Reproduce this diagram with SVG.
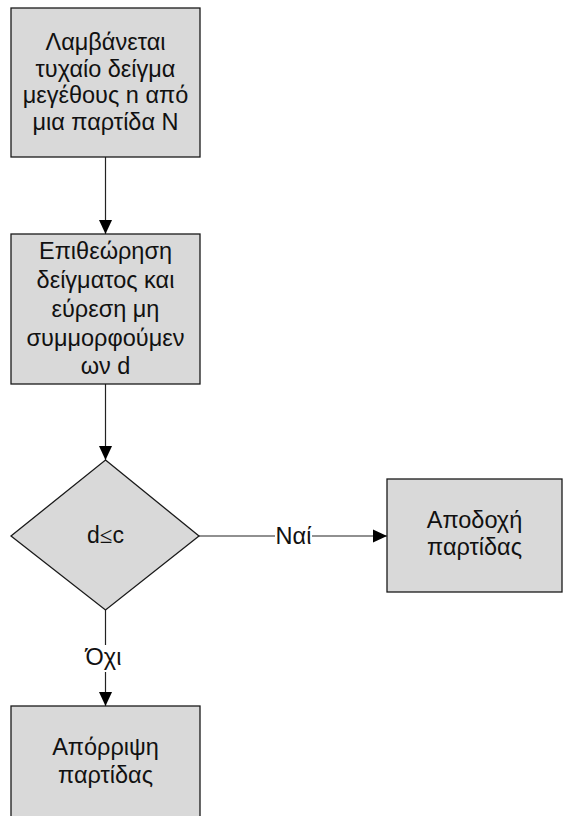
<svg xmlns="http://www.w3.org/2000/svg" width="564" height="816" viewBox="0 0 564 816">
  <style>
    .box { fill: #d9d9d9; stroke: #1a1a1a; stroke-width: 1.3; }
    .t { font-family: "Liberation Sans", Arial, sans-serif; font-size: 23.5px; fill: #111; text-anchor: middle; }
    .conn { stroke: #222; stroke-width: 1.2; fill: none; }
  </style>
  <defs>
    <marker id="arrow" markerWidth="14" markerHeight="14" viewBox="0 0 15 14" refX="15" refY="7" orient="auto" markerUnits="userSpaceOnUse">
      <path d="M0,0 L15,7 L0,14 Z" fill="#000"/>
    </marker>
  </defs>

  <rect width="564" height="816" fill="#fff"/>

  <g id="connectors">
    <line class="conn" x1="105.5" y1="157" x2="105.5" y2="234" marker-end="url(#arrow)"/>
    <line class="conn" x1="105.5" y1="384" x2="105.5" y2="460" marker-end="url(#arrow)"/>
    <line class="conn" x1="199" y1="536" x2="275" y2="536"/>
    <line class="conn" x1="312" y1="536" x2="387" y2="536" marker-end="url(#arrow)"/>
    <text class="t" x="293.5" y="544">Ναί</text>
    <line class="conn" x1="105.5" y1="610" x2="105.5" y2="645"/>
    <line class="conn" x1="105.5" y1="672" x2="105.5" y2="706" marker-end="url(#arrow)"/>
    <text class="t" x="103.5" y="665">Όχι</text>
  </g>

  <g id="sample">
    <rect class="box" x="11" y="8" width="189" height="149"/>
    <text class="t" x="105.5" y="50">Λαμβάνεται</text>
    <text class="t" x="105.5" y="76.7">τυχαίο δείγμα</text>
    <text class="t" x="105.5" y="103.4">μεγέθους n από</text>
    <text class="t" x="105.5" y="130">μια παρτίδα Ν</text>
  </g>

  <g id="inspect">
    <rect class="box" x="11" y="234" width="189" height="150"/>
    <text class="t" x="105.5" y="259">Επιθεώρηση</text>
    <text class="t" x="105.5" y="288">δείγματος και</text>
    <text class="t" x="105.5" y="317">εύρεση μη</text>
    <text class="t" x="105.5" y="345.5">συμμορφούμεν</text>
    <text class="t" x="105.5" y="374">ων d</text>
  </g>

  <g id="decision">
    <polygon class="box" points="105.5,460 199,536 105.5,610 11,536"/>
    <text x="105.5" y="543" text-anchor="middle" fill="#111" font-size="23"><tspan font-family="Liberation Sans, Arial, sans-serif">d</tspan><tspan font-family="Liberation Serif, Times New Roman, serif">≤</tspan><tspan font-family="Liberation Sans, Arial, sans-serif">c</tspan></text>
  </g>

  <g id="accept">
    <rect class="box" x="387" y="479" width="175" height="113"/>
    <text class="t" x="474.5" y="528">Αποδοχή</text>
    <text class="t" x="474.5" y="555">παρτίδας</text>
  </g>

  <g id="reject">
    <rect class="box" x="11" y="706" width="189" height="120"/>
    <text class="t" x="105.5" y="755">Απόρριψη</text>
    <text class="t" x="105.5" y="783">παρτίδας</text>
  </g>
</svg>
